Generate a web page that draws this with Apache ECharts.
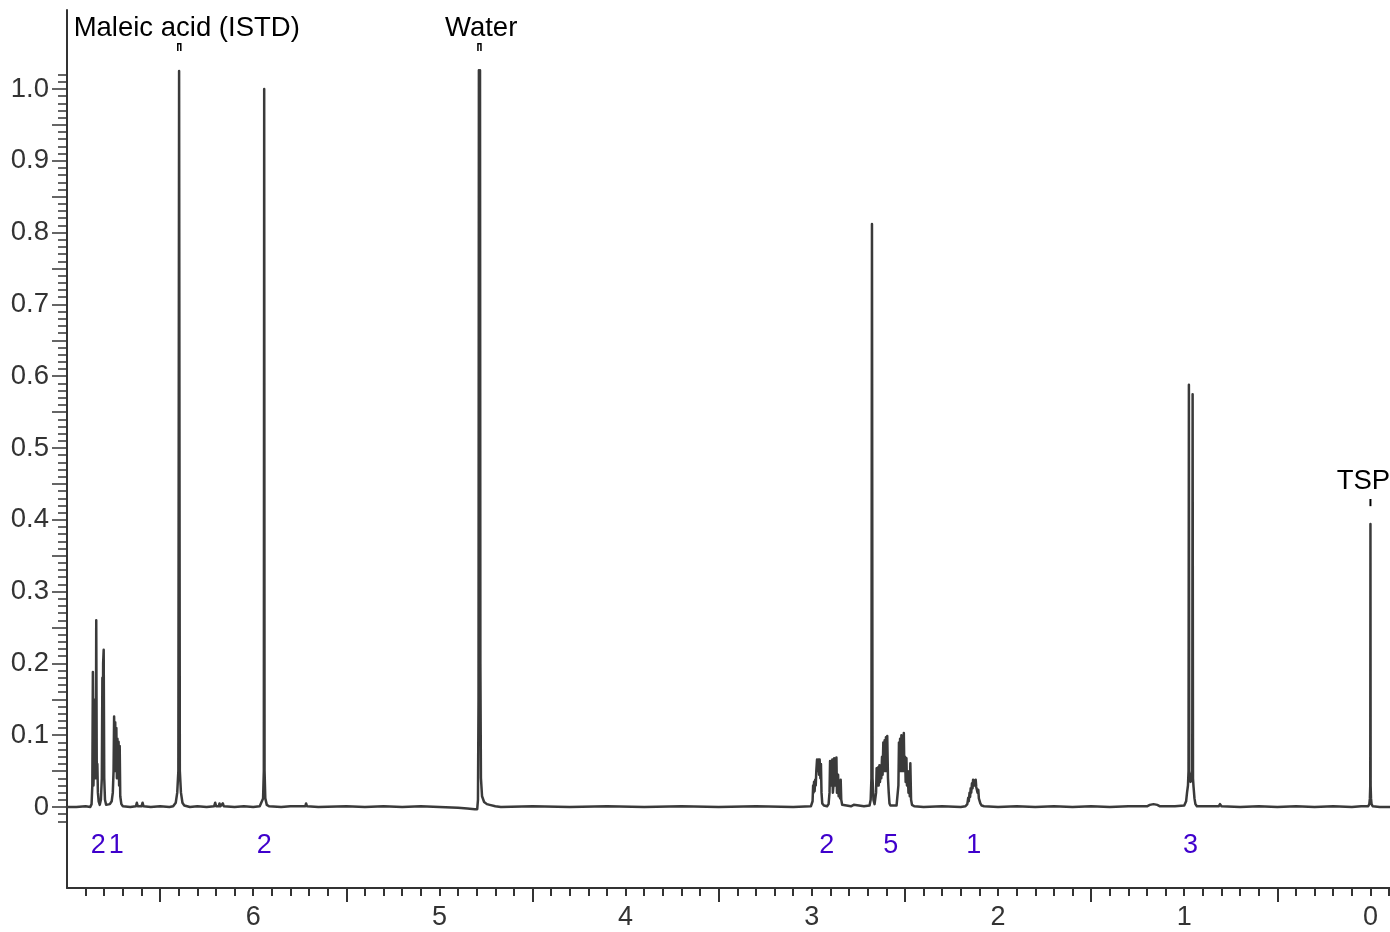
<!DOCTYPE html>
<html><head><meta charset="utf-8">
<script src="https://cdn.jsdelivr.net/npm/echarts@6/dist/echarts.min.js"></script>
<style>html,body{margin:0;padding:0;background:#fff}#c{width:1390px;height:932px}</style>
</head><body><div id="c"></div>
<script>
// ---- data (ppm, relative intensity) ----
const spectrum = [
 [7.00,0.000],[6.95,0.000],[6.90,0.001],[6.875,0.000],[6.868,0.004],[6.864,0.03],[6.861,0.188],[6.858,0.03],
 [6.855,0.06],[6.853,0.09],[6.850,0.04],[6.847,0.15],[6.845,0.05],[6.843,0.260],[6.840,0.04],[6.837,0.06],
 [6.834,0.02],[6.830,0.008],[6.824,0.003],[6.818,0.01],[6.813,0.04],[6.810,0.18],[6.808,0.05],[6.806,0.20],
 [6.803,0.219],[6.800,0.04],[6.796,0.01],[6.790,0.003],[6.780,0.002],[6.770,0.004],[6.760,0.008],[6.754,0.02],
 [6.750,0.05],[6.747,0.126],[6.744,0.05],[6.741,0.118],[6.738,0.05],[6.735,0.110],[6.732,0.04],[6.729,0.095],
 [6.726,0.04],[6.723,0.091],[6.720,0.03],[6.717,0.085],[6.714,0.015],[6.708,0.004],[6.70,0.001],[6.66,0.000],
 [6.63,0.001],[6.625,0.006],[6.620,0.001],[6.600,0.001],[6.594,0.006],[6.589,0.001],[6.55,0.000],[6.50,0.001],
 [6.45,0.000],[6.43,0.001],[6.416,0.006],[6.408,0.02],[6.402,0.05],[6.398,1.025],[6.394,0.05],[6.388,0.02],
 [6.380,0.006],[6.37,0.002],[6.34,0.000],[6.30,0.001],[6.25,0.000],[6.21,0.001],[6.204,0.006],[6.199,0.001],
 [6.185,0.001],[6.181,0.005],[6.176,0.001],[6.163,0.005],[6.158,0.001],[6.10,0.000],[6.05,0.001],[6.00,0.000],
 [5.965,0.001],[5.955,0.003],[5.947,0.012],[5.943,0.05],[5.941,1.000],[5.939,0.05],[5.935,0.012],[5.927,0.003],
 [5.915,0.001],[5.85,0.000],[5.80,0.001],[5.72,0.001],[5.716,0.005],[5.711,0.001],[5.65,0.000],[5.50,0.001],
 [5.40,0.000],[5.30,0.001],[5.20,0.000],[5.10,0.001],[5.00,0.000],[4.90,-0.001],[4.85,-0.002],[4.81,-0.003],
 [4.797,-0.003],[4.793,0.01],[4.790,0.15],[4.788,1.026],[4.785,0.85],[4.782,1.026],[4.780,0.2],[4.777,0.04],
 [4.771,0.015],[4.760,0.007],[4.745,0.004],[4.73,0.003],[4.70,0.001],[4.67,0.000],[4.50,0.001],[4.30,0.000],
 [4.10,0.001],[3.90,0.000],[3.70,0.001],[3.50,0.000],[3.30,0.001],[3.10,0.000],[3.005,0.001],
 [2.996,0.008],[2.993,0.030],[2.991,0.020],[2.988,0.035],[2.985,0.022],[2.982,0.038],[2.979,0.030],[2.976,0.050],
 [2.972,0.066],[2.968,0.050],[2.964,0.066],[2.961,0.045],[2.958,0.066],[2.954,0.040],[2.951,0.060],[2.948,0.020],
 [2.944,0.005],[2.935,0.002],[2.918,0.001],[2.910,0.004],[2.905,0.02],[2.902,0.064],[2.899,0.03],[2.896,0.062],
 [2.893,0.03],[2.890,0.066],[2.887,0.02],[2.884,0.03],[2.880,0.068],[2.877,0.03],[2.874,0.062],[2.871,0.035],
 [2.868,0.069],[2.865,0.02],[2.862,0.030],[2.859,0.045],[2.856,0.015],[2.852,0.025],[2.848,0.012],[2.845,0.038],
 [2.842,0.010],[2.837,0.003],[2.830,0.001],[2.79,0.001],[2.775,0.003],[2.770,0.001],[2.72,0.001],[2.690,0.002],
 [2.684,0.01],[2.680,0.04],[2.677,0.812],[2.674,0.04],[2.669,0.01],[2.663,0.004],
 [2.658,0.006],[2.655,0.02],[2.652,0.054],[2.649,0.03],[2.645,0.055],[2.641,0.03],[2.637,0.058],[2.634,0.035],
 [2.630,0.058],[2.627,0.04],[2.623,0.070],[2.620,0.045],[2.616,0.090],[2.613,0.05],[2.609,0.093],[2.606,0.05],
 [2.602,0.097],[2.599,0.05],[2.595,0.099],[2.591,0.04],[2.587,0.02],[2.583,0.005],[2.578,0.002],[2.560,0.002],
 [2.545,0.002],[2.540,0.004],[2.535,0.03],[2.532,0.090],[2.529,0.05],[2.526,0.095],[2.523,0.05],[2.519,0.100],
 [2.516,0.05],[2.512,0.085],[2.509,0.05],[2.506,0.103],[2.503,0.05],[2.499,0.070],[2.496,0.035],[2.492,0.068],
 [2.489,0.03],[2.485,0.050],[2.481,0.02],[2.477,0.040],[2.474,0.015],[2.471,0.061],[2.467,0.01],[2.462,0.003],
 [2.45,0.001],[2.40,0.000],[2.30,0.001],[2.20,0.000],[2.175,0.001],
 [2.165,0.004],[2.160,0.013],[2.157,0.008],[2.153,0.020],[2.150,0.014],[2.147,0.026],[2.144,0.020],[2.140,0.033],
 [2.137,0.026],[2.134,0.038],[2.131,0.030],[2.127,0.037],[2.124,0.030],[2.120,0.038],[2.117,0.028],[2.113,0.030],
 [2.110,0.020],[2.106,0.024],[2.103,0.012],[2.099,0.014],[2.095,0.005],[2.088,0.002],[2.075,0.001],
 [2.00,0.000],[1.90,0.001],[1.80,0.000],[1.70,0.001],[1.60,0.000],[1.50,0.001],[1.40,0.000],[1.30,0.001],
 [1.20,0.001],[1.185,0.003],[1.175,0.002],[1.165,0.004],[1.155,0.002],[1.145,0.003],[1.13,0.001],[1.05,0.001],
 [1.00,0.002],[0.990,0.008],[0.985,0.02],[0.980,0.03],[0.977,0.05],[0.975,0.588],[0.973,0.05],[0.966,0.035],
 [0.960,0.04],[0.957,0.05],[0.955,0.575],[0.953,0.04],[0.950,0.028],[0.945,0.012],[0.940,0.004],[0.932,0.001],
 [0.90,0.001],[0.87,0.001],[0.815,0.001],[0.808,0.004],[0.800,0.001],[0.70,0.000],[0.60,0.001],[0.50,0.000],
 [0.40,0.001],[0.30,0.000],[0.20,0.001],[0.10,0.000],[0.05,0.001],[0.012,0.001],[0.006,0.004],[0.003,0.012],
 [0.001,0.03],[0.000,0.394],[-0.001,0.03],[-0.003,0.012],[-0.006,0.004],[-0.012,0.001],[-0.05,0.000],[-0.105,0.000]
];

// integration labels
const integralPpm  = [6.832, 6.735, 5.941, 2.920, 2.576, 2.131, 0.966];
const integralText = ['2', '1', '2', '2', '5', '1', '3'];
const integralY    = -0.053;

// peak annotations
const annotationText     = ['Maleic acid (ISTD)', 'Water', 'TSP'];
const annotationPpm      = [6.397, 4.785, 0.000];
const annotationTextPpm  = [6.357, 4.776, 0.038];
const annotationTextY    = [1.085, 1.085, 0.453];
const annotationMarkTop  = [1.063, 1.063, 0.429];
const annotationMarkBot  = [1.053, 1.053, 0.419];
const annotationBracket  = [true, true, false];

// axes
const xLabelValues  = [0, 1, 2, 3, 4, 5, 6];
const xHalfTicks    = [0.5, 1.5, 2.5, 3.5, 4.5, 5.5, 6.5];
const xMinorTicks   = [];
for (let k = -1; k <= 69; k++) { if (k % 5 !== 0) xMinorTicks.push(k / 10); }
xMinorTicks.push(0,1,2,3,4,5,6);
const yLabelValues  = [0, 0.1, 0.2, 0.3, 0.4, 0.5, 0.6, 0.7, 0.8, 0.9, 1.0];
const yMajorTicks   = [];
for (let k = 0; k <= 20; k++) yMajorTicks.push(k * 0.05);
const yMinorTicks   = [];
for (let k = -2; k <= 102; k++) { if (k % 5 !== 0) yMinorTicks.push(k / 100); }

const X_MIN = -0.105, X_MAX = 7.0, Y_MIN = -0.1128, Y_MAX = 1.110;
const FONT = '"Liberation Sans", Arial, sans-serif';
const AX = '#333333';

const chart = echarts.init(document.getElementById('c'), null, {renderer: 'canvas'});

function xAx(extra) {
  return Object.assign({
    type: 'value', min: X_MIN, max: X_MAX, inverse: true, position: 'bottom', offset: 0,
    splitLine: {show: false}, axisLine: {show: false, onZero: false}, axisLabel: {show: false}, axisTick: {show: false}
  }, extra);
}
function yAx(extra) {
  return Object.assign({
    type: 'value', min: Y_MIN, max: Y_MAX, position: 'left', offset: 0,
    splitLine: {show: false}, axisLine: {show: false, onZero: false}, axisLabel: {show: false}, axisTick: {show: false}
  }, extra);
}

chart.setOption({
  animation: false,
  backgroundColor: '#ffffff',
  grid: {left: 67, right: 0, top: 10, bottom: 44, containLabel: false},
  xAxis: [
    xAx({
      axisLine: {show: true, onZero: false, lineStyle: {color: AX, width: 2}},
      axisTick: {show: true, customValues: xMinorTicks, length: 8, lineStyle: {color: AX, width: 2}},
      axisLabel: {show: true, customValues: xLabelValues, margin: 16, color: '#333', fontSize: 27, fontFamily: FONT}
    }),
    xAx({
      axisLine: {show: false, onZero: false},
      axisTick: {show: true, customValues: xHalfTicks, length: 14, lineStyle: {color: AX, width: 2}}
    })
  ],
  yAxis: [
    yAx({
      axisLine: {show: true, onZero: false, lineStyle: {color: AX, width: 2}},
      axisTick: {show: true, customValues: yMinorTicks, length: 9, lineStyle: {color: AX, width: 1.5}},
      axisLabel: {show: true, customValues: yLabelValues, margin: 18, color: '#333', fontSize: 27.5, fontFamily: FONT,
        formatter: v => (Math.abs(v) < 1e-9 ? '0' : v.toFixed(1))}
    }),
    yAx({
      axisLine: {show: false, onZero: false},
      axisTick: {show: true, customValues: yMajorTicks, length: 15, lineStyle: {color: AX, width: 1.5}}
    })
  ],
  series: [
    {
      type: 'line', xAxisIndex: 0, yAxisIndex: 0, data: spectrum, showSymbol: false, symbol: 'none',
      lineStyle: {color: '#3a3a3a', width: 2.5, join: 'round', cap: 'round'}, silent: true, z: 3
    },
    {
      type: 'custom', xAxisIndex: 0, yAxisIndex: 0, clip: false, silent: true, z: 4,
      data: integralPpm.map((p, i) => [p, integralY, i]),
      renderItem: (params, api) => {
        const i = api.value(2);
        const c = api.coord([api.value(0), api.value(1)]);
        return {type: 'text', style: {text: integralText[i], x: c[0], y: c[1], align: 'center', verticalAlign: 'middle',
          font: '27px ' + FONT, fill: '#3f00cc'}};
      }
    },
    {
      type: 'custom', xAxisIndex: 0, yAxisIndex: 0, clip: false, silent: true, z: 4,
      data: annotationPpm.map((p, i) => [p, annotationMarkTop[i], i]),
      renderItem: (params, api) => {
        const i = api.value(2);
        const t = api.coord([annotationTextPpm[i], annotationTextY[i]]);
        const mTop = api.coord([annotationPpm[i], annotationMarkTop[i]]);
        const mBot = api.coord([annotationPpm[i], annotationMarkBot[i]]);
        const children = [{type: 'text', style: {text: annotationText[i], x: t[0], y: t[1], align: 'center',
          verticalAlign: 'middle', font: '27.5px ' + FONT, fill: '#000'}}];
        if (annotationBracket[i]) {
          children.push({type: 'polyline', shape: {points: [[mTop[0] - 1.5, mBot[1]], [mTop[0] - 1.5, mTop[1]],
            [mTop[0] + 1.5, mTop[1]], [mTop[0] + 1.5, mBot[1]]]}, style: {stroke: '#000', lineWidth: 1.5, fill: null}});
        } else {
          children.push({type: 'line', shape: {x1: mTop[0], y1: mTop[1], x2: mBot[0], y2: mBot[1]},
            style: {stroke: '#000', lineWidth: 2}});
        }
        return {type: 'group', children};
      }
    }
  ]
});
</script></body></html>
